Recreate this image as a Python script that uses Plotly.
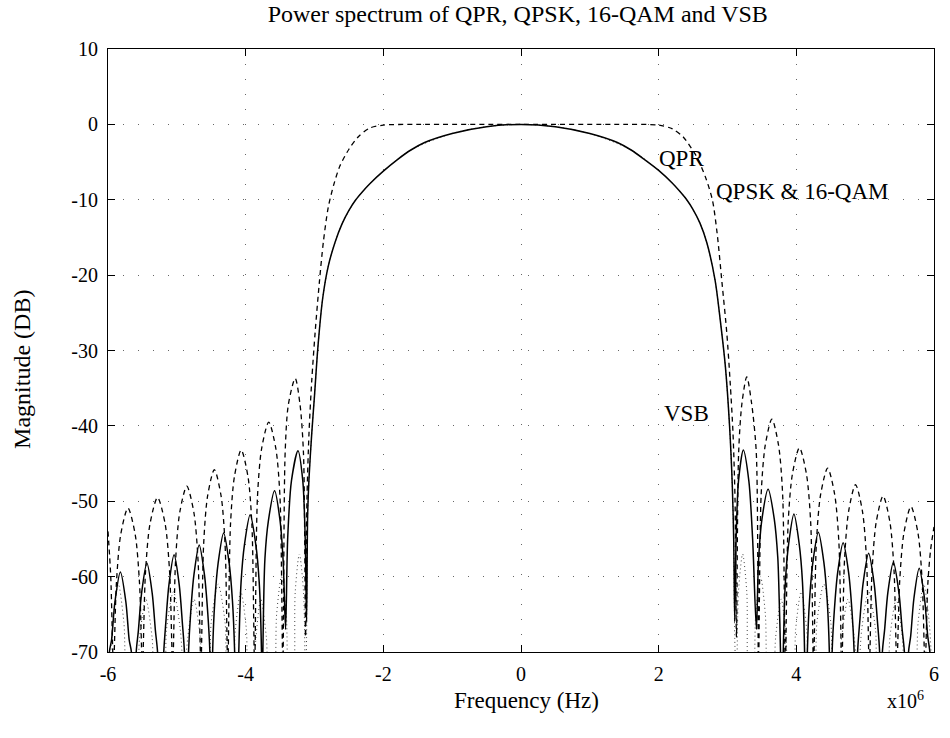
import plotly.graph_objects as go

# ---------------- data ----------------
x_ticks = [-6, -4, -2, 0, 2, 4, 6]
x_tick_labels = ["-6", "-4", "-2", "0", "2", "4", "6"]
y_ticks = [-70, -60, -50, -40, -30, -20, -10, 0, 10]
y_tick_labels = ["-70", "-60", "-50", "-40", "-30", "-20", "-10", "0", "10"]

# QPR (solid) — frequency in MHz, magnitude in dB
qpr_f = [
    -6.00, -5.98, -5.948, -5.90, -5.82, -5.74, -5.692, -5.66, -5.625,
    -5.59, -5.559, -5.512, -5.435, -5.358, -5.311, -5.28, -5.235,
    -5.19, -5.16, -5.115, -5.04, -4.965, -4.92, -4.89, -4.86,
    -4.83, -4.799, -4.752, -4.675, -4.598, -4.551, -4.52, -4.50,
    -4.48, -4.448, -4.40, -4.32, -4.24, -4.192, -4.16, -4.13,
    -4.10, -4.067, -4.018, -3.935, -3.852, -3.803, -3.77, -3.76,
    -3.75, -3.72, -3.67, -3.58, -3.50, -3.455, -3.42,
    -3.39, -3.335, -3.24, -3.17, -3.135, -3.115,
    -3.10, -3.08, -3.04, -3.00, -2.95, -2.88, -2.80, -2.70, -2.60, -2.50,
    -2.40, -2.30, -2.20, -2.00, -1.80, -1.60, -1.40, -1.00, -0.50, 0.00,
    0.50, 1.00, 1.40, 1.60, 1.80, 2.00, 2.20, 2.30, 2.40, 2.50, 2.60,
    2.70, 2.82, 2.89, 2.97, 3.03, 3.07, 3.09, 3.105,
    3.125, 3.16, 3.23, 3.31, 3.365, 3.42,
    3.45, 3.50, 3.59, 3.68, 3.73, 3.745, 3.77, 3.79,
    3.81, 3.841, 3.888, 3.965, 4.042, 4.089, 4.12, 4.14,
    4.16, 4.192, 4.24, 4.32, 4.40, 4.448, 4.48, 4.50,
    4.52, 4.552, 4.60, 4.68, 4.76, 4.808, 4.84, 4.865,
    4.89, 4.922, 4.97, 5.05, 5.13, 5.178, 5.21, 5.23,
    5.25, 5.282, 5.33, 5.41, 5.49, 5.538, 5.57, 5.60,
    5.63, 5.661, 5.708, 5.785, 5.862, 5.909, 5.94, 6.00,
]
qpr_db = [
    -85, -70, -68.4, -63.4, -59.4, -63.4, -68.4, -70, -85,
    -70, -67.2, -62.2, -58.2, -62.2, -67.2, -70, -85,
    -70, -66.1, -61.1, -57.1, -61.1, -66.1, -70, -85,
    -70, -64.8, -59.8, -55.8, -59.8, -64.8, -70, -85,
    -70, -63.2, -58.2, -54.2, -58.2, -63.2, -70, -85,
    -70, -60.8, -55.8, -51.8, -55.8, -60.8, -70, -85,
    -70, -57.6, -52.6, -48.6, -52.6, -58.0, -67,
    -55, -47.3, -43.3, -47.3, -55, -66,
    -52, -47, -41, -36, -29.5, -23, -18.8, -15.6, -13.2, -11.4,
    -10.0, -8.9, -7.9, -6.2, -4.7, -3.4, -2.4, -1.2, -0.3, 0.0,
    -0.3, -1.2, -2.4, -3.4, -4.7, -6.1, -7.8, -8.8, -9.9, -11.3, -13.1,
    -15.7, -20.7, -25.6, -32.2, -40, -48, -55, -66,
    -55, -47.3, -43.2, -47.3, -55, -67,
    -58, -52.4, -48.4, -52.4, -57.4, -61, -70, -85,
    -70, -60.7, -55.7, -51.7, -55.7, -60.7, -70, -85,
    -70, -63.1, -58.1, -54.1, -58.1, -63.1, -70, -85,
    -70, -64.5, -59.5, -55.5, -59.5, -64.5, -70, -85,
    -70, -65.9, -60.9, -56.9, -60.9, -65.9, -70, -85,
    -70, -67.1, -62.1, -58.1, -62.1, -67.1, -70, -85,
    -70, -67.9, -62.9, -58.9, -62.9, -67.9, -70, -85,
]

# QPSK & 16-QAM (dashed)
qpsk_f = [
    -6.00, -5.96, -5.92,
    -5.878, -5.815, -5.71, -5.605, -5.542, -5.50,
    -5.456, -5.39, -5.28, -5.17, -5.104, -5.06,
    -5.019, -4.958, -4.855, -4.752, -4.691, -4.65,
    -4.611, -4.553, -4.455, -4.357, -4.299, -4.26,
    -4.221, -4.163, -4.065, -3.967, -3.909, -3.87,
    -3.829, -3.768, -3.665, -3.562, -3.501, -3.46,
    -3.427, -3.38, -3.28, -3.21, -3.16, -3.13,
    -3.11, -3.08, -3.04, -2.99, -2.93, -2.87, -2.80, -2.72, -2.63, -2.50,
    -2.36, -2.20, -2.00, -1.50, 0.00, 1.50, 2.00, 2.20, 2.36, 2.50,
    2.56, 2.68, 2.78, 2.85, 2.92, 2.99, 3.04, 3.08, 3.11, 3.13,
    3.162, 3.21, 3.28, 3.35, 3.418, 3.45,
    3.489, 3.548, 3.645, 3.742, 3.801, 3.84,
    3.881, 3.943, 4.045, 4.147, 4.209, 4.25,
    4.291, 4.353, 4.455, 4.557, 4.619, 4.66,
    4.70, 4.76, 4.86, 4.96, 5.02, 5.06,
    5.10, 5.16, 5.26, 5.36, 5.42, 5.46,
    5.501, 5.563, 5.665, 5.767, 5.829, 5.87,
    5.91, 5.95, 6.00,
]
qpsk_db = [
    -54, -60, -72,
    -60.9, -54.4, -50.9, -54.4, -60.9, -72,
    -59.5, -53.0, -49.5, -53.0, -59.5, -72,
    -58.0, -51.5, -48.0, -51.5, -58.0, -72,
    -55.8, -49.3, -45.8, -49.3, -55.8, -72,
    -53.2, -46.7, -43.2, -46.7, -53.2, -72,
    -49.5, -43.0, -39.5, -43.0, -49.5, -72,
    -43.7, -37.2, -33.7, -37.2, -43.7, -68,
    -50, -41, -34, -27.5, -21, -15.5, -11, -8, -5.5, -3.3,
    -1.6, -0.5, -0.1, 0.0, 0.0, 0.0, -0.1, -0.6, -1.7, -3.5,
    -4.4, -7.0, -10.0, -14.5, -21.0, -27.7, -34.4, -41, -50, -68,
    -43.5, -37.0, -33.5, -37.0, -43.5, -72,
    -49.1, -42.6, -39.1, -42.6, -49.1, -72,
    -52.9, -46.4, -42.9, -46.4, -52.9, -72,
    -55.6, -49.1, -45.6, -49.1, -55.6, -72,
    -57.8, -51.3, -47.8, -51.3, -57.8, -72,
    -59.3, -52.8, -49.3, -52.8, -59.3, -72,
    -60.7, -54.2, -50.7, -54.2, -60.7, -72,
    -61, -56.5, -53.4,
]

# VSB (dotted) — main lobe lies under the QPR curve, side lobes low down
vsb_f = [
    -5.98, -5.93, -5.85, -5.77, -5.70,
    -5.60, -5.54, -5.45, -5.36, -5.30,
    -5.20, -5.15, -5.05, -4.95, -4.90,
    -4.90, -4.84, -4.75, -4.66, -4.60,
    -4.55, -4.50, -4.40, -4.30, -4.25,
    -4.20, -4.15, -4.07, -3.99, -3.95,
    -3.90, -3.85, -3.78, -3.70, -3.65,
    -3.60, -3.55, -3.48, -3.41, -3.36,
    -3.32, -3.28, -3.22, -3.16, -3.13,
    -3.115, -3.10, -3.08, -3.04, -3.00, -2.95, -2.88, -2.80, -2.70, -2.60,
    -2.40, -2.20, -2.00, -1.60, -1.00, -0.50, 0.00, 0.50, 1.00, 1.60,
    2.00, 2.20, 2.40, 2.60, 2.70, 2.82, 2.89, 2.97, 3.03, 3.07, 3.09, 3.105,
    3.13, 3.16, 3.22, 3.28, 3.32,
    3.36, 3.41, 3.48, 3.55, 3.60,
    3.65, 3.70, 3.78, 3.85, 3.90,
    3.95, 3.99, 4.07, 4.15, 4.20,
    4.25, 4.30, 4.40, 4.50, 4.55,
    4.60, 4.66, 4.75, 4.84, 4.90,
    4.90, 4.95, 5.05, 5.15, 5.20,
    5.30, 5.36, 5.45, 5.54, 5.60,
    5.70, 5.77, 5.85, 5.93, 5.98,
]
vsb_db = [
    -75, -66, -61, -66, -75,
    -75, -68, -63, -68, -75,
    -75, -67, -62, -67, -75,
    -75, -68, -63, -68, -75,
    -75, -66, -61, -66, -75,
    -75, -67, -62, -67, -75,
    -75, -68, -63, -68, -75,
    -75, -65, -60, -65, -75,
    -75, -62, -57, -62, -75,
    -68, -52, -47, -41, -36, -29.5, -23, -18.8, -15.6, -13.2,
    -10.0, -7.9, -6.2, -3.4, -1.2, -0.3, 0.0, -0.3, -1.2, -3.4,
    -6.1, -7.8, -9.9, -13.1, -15.7, -20.7, -25.6, -32.2, -40, -48, -55, -68,
    -75, -62, -57, -62, -75,
    -75, -65, -60, -65, -75,
    -75, -68, -63, -68, -75,
    -75, -67, -62, -67, -75,
    -75, -66, -61, -66, -75,
    -75, -68, -63, -68, -75,
    -75, -67, -62, -67, -75,
    -75, -68, -63, -68, -75,
    -75, -66, -61, -66, -75,
]

title_text = "Power spectrum of QPR, QPSK, 16-QAM and VSB"
x_title = "Frequency (Hz)"
y_title = "Magnitude (DB)"

# ---------------- figure ----------------
FONT = "Liberation Serif, Times New Roman, serif"

fig = go.Figure()
fig.add_trace(go.Scatter(x=vsb_f, y=vsb_db, mode="lines", name="VSB",
                         line=dict(color="#444444", width=1, dash="1px,3px",
                                   shape="spline", smoothing=0.8)))
fig.add_trace(go.Scatter(x=qpsk_f, y=qpsk_db, mode="lines", name="QPSK & 16-QAM",
                         line=dict(color="black", width=1.3, dash="5px,4px",
                                   shape="spline", smoothing=0.8)))
fig.add_trace(go.Scatter(x=qpr_f, y=qpr_db, mode="lines", name="QPR",
                         line=dict(color="black", width=1.5,
                                   shape="spline", smoothing=0.8)))

axis_common = dict(
    showline=True, linecolor="black", linewidth=1, mirror="ticks",
    ticks="inside", ticklen=7, tickcolor="black", tickwidth=1,
    showgrid=True, gridcolor="#666666", gridwidth=1, griddash="1px,14px",
    zeroline=False,
    tickfont=dict(family=FONT, size=20, color="black"),
)

fig.update_layout(
    width=950, height=738,
    margin=dict(l=108, r=16, t=49, b=86),
    paper_bgcolor="white", plot_bgcolor="white",
    showlegend=False,
    title=dict(text=title_text, x=0.545, xanchor="center",
               y=0.982, yanchor="middle", yref="container",
               font=dict(family=FONT, size=24, color="black")),
    xaxis=dict(range=[-6, 6], tickvals=x_ticks, ticktext=x_tick_labels,
               ticklabelstandoff=4, **axis_common),
    yaxis=dict(range=[-70, 10], tickvals=y_ticks, ticktext=y_tick_labels,
               ticklabelstandoff=5, **axis_common),
    annotations=[
        dict(text=x_title, xref="paper", yref="paper", x=0.507, y=-0.08,
             xanchor="center", yanchor="middle", showarrow=False,
             font=dict(family=FONT, size=23, color="black")),
        dict(text="x10<sup>6</sup>", xref="paper", yref="paper", x=0.966, y=-0.08,
             xanchor="center", yanchor="middle", showarrow=False,
             font=dict(family=FONT, size=20, color="black")),
        dict(text=y_title, xref="paper", yref="paper", x=-0.104, y=0.468,
             xanchor="center", yanchor="middle", textangle=-90, showarrow=False,
             font=dict(family=FONT, size=24, color="black")),
        dict(text="QPR", x=1.98, y=-4.5, xanchor="left", yanchor="middle",
             showarrow=False, font=dict(family=FONT, size=23, color="black")),
        dict(text="QPSK & 16-QAM", x=2.81, y=-8.9, xanchor="left", yanchor="middle",
             showarrow=False, font=dict(family=FONT, size=23, color="black")),
        dict(text="VSB", x=2.05, y=-38.4, xanchor="left", yanchor="middle",
             showarrow=False, font=dict(family=FONT, size=23, color="black")),
    ],
)

fig.write_html("out.html", config={"displayModeBar": False},
               post_script="document.body.style.margin='0';")
